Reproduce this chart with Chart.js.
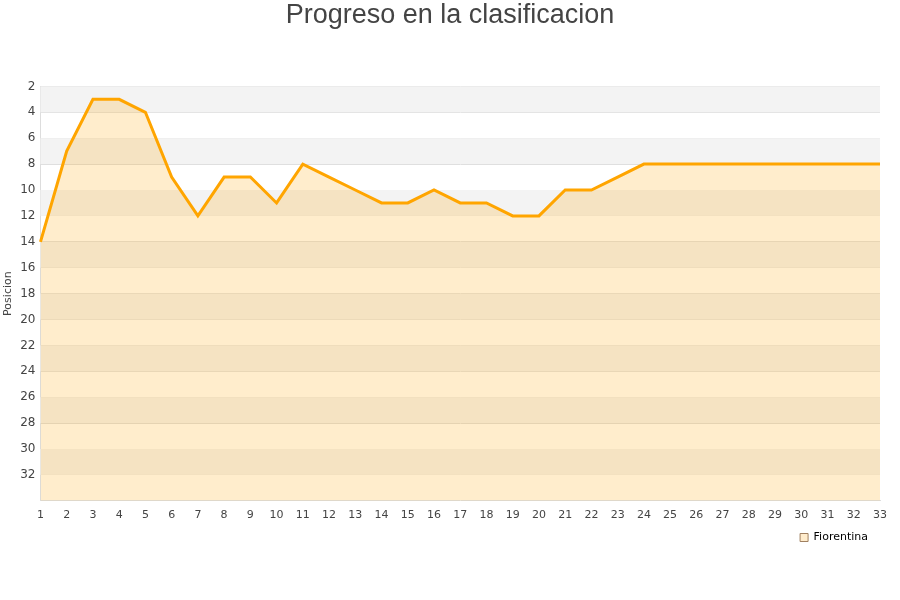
<!DOCTYPE html>
<html>
<head>
<meta charset="utf-8">
<script src="https://cdn.jsdelivr.net/npm/chart.js@4/dist/chart.umd.min.js"></script>
<style>
  body { margin: 0; background: #fff; }
  #wrap { width: 900px; height: 600px; }
</style>
</head>
<body>
<div id="wrap"><canvas id="clasif"></canvas></div>
<script>
const jornadas = [];
for (let i = 1; i <= 33; i++) jornadas.push(String(i));

const posiciones = [14, 7, 3, 3, 4, 9, 12, 9, 9, 11, 8, 9, 10, 11, 11, 10, 11, 11, 12, 12, 10, 10, 9, 8, 8, 8, 8, 8, 8, 8, 8, 8, 8];

const yTicks = [2, 4, 6, 8, 10, 12, 14, 16, 18, 20, 22, 24, 26, 28, 30, 32];

const titulo = "Progreso en la clasificacion";

// alternating grey / white bands behind the plot
const bandsPlugin = {
  id: "bands",
  beforeDraw(chart) {
    // nudge the legend a bit left of the plot edge
    if (chart.legend && !chart.legend._nudged) {
      chart.legend.left -= 10;
      chart.legend.right -= 10;
      chart.legend._nudged = true;
    }
  },
  beforeDatasetsDraw(chart) {
    const { ctx, chartArea, scales } = chart;
    const y = scales.y;
    ctx.save();
    for (let v = 2; v < 34; v += 4) {
      const top = y.getPixelForValue(v);
      const bottom = y.getPixelForValue(v + 2);
      ctx.fillStyle = "#f3f3f3";
      ctx.fillRect(chartArea.left, top, chartArea.right - chartArea.left, bottom - top);
    }
    ctx.restore();
  },
  afterDraw(chart) {
    // title centred on the whole canvas
    const { ctx } = chart;
    ctx.save();
    ctx.fillStyle = "#444";
    ctx.font = "27px 'Liberation Sans'";
    ctx.textAlign = "center";
    ctx.textBaseline = "middle";
    ctx.fillText(titulo, chart.width / 2, 16);
    ctx.restore();
  }
};

const ctx = document.getElementById("clasif").getContext("2d");
const chart = new Chart(ctx, {
  type: "line",
  data: {
    labels: jornadas,
    datasets: [{
      label: "Fiorentina",
      data: posiciones,
      borderColor: "#ffa500",
      backgroundColor: "rgba(255, 165, 0, 0.2)",
      borderWidth: 3,
      fill: { value: 34 },
      pointRadius: 0,
      tension: 0
    }]
  },
  options: {
    responsive: true,
    maintainAspectRatio: false,
    animation: false,
    layout: { padding: { left: 2, right: 20, top: 0, bottom: 47 } },
    scales: {
      x: {
        offset: false,
        grid: { display: false, drawTicks: false },
        border: { color: "#dddddd" },
        ticks: { color: "#444", font: { family: "DejaVu Sans", size: 11 }, maxRotation: 0, autoSkip: false, padding: 8 },
      },
      y: {
        reverse: true,
        min: 2,
        max: 34,
        afterBuildTicks(scale) {
          scale.ticks = yTicks.map(v => ({ value: v }));
        },
        grid: { color: "#dddddd", drawTicks: false },
        border: { color: "#dddddd" },
        ticks: { color: "#444", font: { family: "DejaVu Sans", size: 12 }, padding: 5 },
        title: { display: true, text: "Posicion", color: "#444", font: { family: "DejaVu Sans", size: 11 }, padding: 0 }
      }
    },
    plugins: {
      title: {
        display: true,
        text: titulo,
        color: "rgba(0,0,0,0)",
        font: { family: "Liberation Sans", size: 27, weight: "normal" },
        padding: { top: 0, bottom: 54 }
      },
      legend: {
        position: "bottom",
        align: "end",
        labels: {
          color: "#000",
          padding: 2,
          font: { family: "DejaVu Sans", size: 11 },
          boxWidth: 8,
          boxHeight: 8,
          generateLabels() {
            return [{ text: "Fiorentina", fillStyle: "#ffeccc", strokeStyle: "#a08060", lineWidth: 1 }];
          }
        }
      },
      tooltip: { enabled: false }
    }
  },
  plugins: [bandsPlugin]
});
</script>
</body>
</html>
